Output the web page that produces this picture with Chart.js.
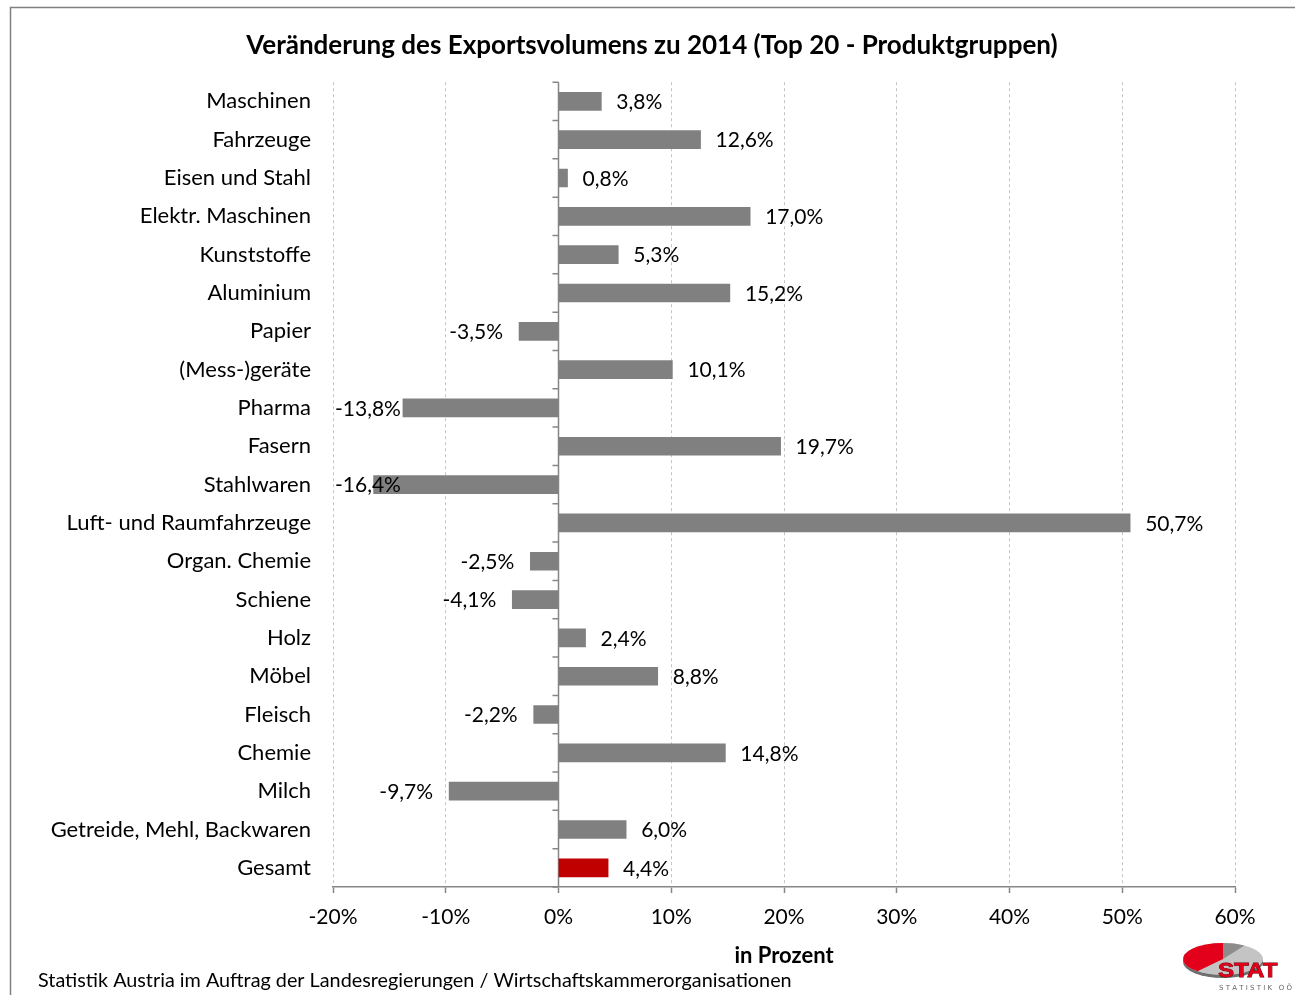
<!DOCTYPE html>
<html>
<head>
<meta charset="utf-8">
<script src="https://cdn.jsdelivr.net/npm/chart.js@4"></script>
<style>
html,body{margin:0;padding:0;background:#fff;}
#wrap{position:relative;width:1295px;height:995px;}
</style>
</head>
<body>
<div id="wrap"><canvas id="c" width="1295" height="995"></canvas></div>
<script>
const titleText = 'Veränderung des Exportsvolumens zu 2014 (Top 20 - Produktgruppen)';
const axisTitle = 'in Prozent';
const footerText = 'Statistik Austria im Auftrag der Landesregierungen / Wirtschaftskammerorganisationen';
const categories = ['Maschinen','Fahrzeuge','Eisen und Stahl','Elektr. Maschinen','Kunststoffe','Aluminium','Papier','(Mess-)geräte','Pharma','Fasern','Stahlwaren','Luft- und Raumfahrzeuge','Organ. Chemie','Schiene','Holz','Möbel','Fleisch','Chemie','Milch','Getreide, Mehl, Backwaren','Gesamt'];
const values = [3.8,12.6,0.8,17.0,5.3,15.2,-3.5,10.1,-13.8,19.7,-16.4,50.7,-2.5,-4.1,2.4,8.8,-2.2,14.8,-9.7,6.0,4.4];
const xMin = -20, xMax = 60, xStep = 10;
const FONT = 'Lato, "Open Sans", sans-serif';

function fmt(v){ return v.toFixed(1).replace('.', ',') + '%'; }

const extras = {
  id: 'extras',
  beforeDatasetsDraw(chart){
    const ctx = chart.ctx, x = chart.scales.x;
    const x0 = x.getPixelForValue(0);
    const ca = chart.chartArea;
    ctx.save();
    ctx.strokeStyle = '#868686';
    ctx.lineWidth = 1.5;
    ctx.beginPath();
    ctx.moveTo(x0, ca.top); ctx.lineTo(x0, ca.bottom);
    const n = categories.length;
    const step = (ca.bottom - ca.top) / n;
    for (let i = 0; i <= n; i++) {
      const yy = ca.top + i * step;
      ctx.moveTo(x0 - 6, yy); ctx.lineTo(x0, yy);
    }
    ctx.stroke();
    ctx.restore();
  },
  afterDatasetsDraw(chart){
    const ctx = chart.ctx, meta = chart.getDatasetMeta(0);
    const ca = chart.chartArea;
    ctx.save();
    ctx.font = '21px ' + FONT;
    ctx.fillStyle = '#000';
    ctx.textBaseline = 'middle';
    meta.data.forEach((bar, i) => {
      const v = values[i];
      const t = fmt(v);
      const w = ctx.measureText(t).width;
      let lx;
      if (v >= 0) { lx = bar.x + 15; }
      else { lx = bar.x - 16 - w; if (lx < ca.left + 2) lx = ca.left + 2; }
      ctx.textAlign = 'left';
      ctx.fillText(t, lx, bar.y + 1);
    });
    ctx.restore();
  },
  afterDraw(chart){
    const ctx = chart.ctx;
    ctx.save();
    // border
    ctx.strokeStyle = '#808080';
    ctx.lineWidth = 1.5;
    ctx.beginPath();
    ctx.moveTo(10.5, 995); ctx.lineTo(10.5, 7.5); ctx.lineTo(1295, 7.5);
    ctx.stroke();
    // footer
    ctx.font = '19.8px ' + FONT;
    ctx.fillStyle = '#000';
    ctx.textAlign = 'left';
    ctx.textBaseline = 'middle';
    ctx.fillText(footerText, 38, 981);
    // logo
    const cx = 1223, cy = 959, rx = 40, ry = 16;
    ctx.fillStyle = '#6e6e6e';
    ctx.beginPath(); ctx.ellipse(cx, cy + 3, rx, ry, 0, 0, Math.PI * 2); ctx.fill();
    ctx.fillStyle = '#c4c4c4';
    ctx.beginPath(); ctx.ellipse(cx, cy, rx, ry, 0, 0, Math.PI * 2); ctx.fill();
    ctx.fillStyle = '#e3001b';
    ctx.beginPath(); ctx.moveTo(cx, cy);
    ctx.ellipse(cx, cy, rx, ry, 0, Math.PI * 0.72, Math.PI * 1.5); ctx.closePath(); ctx.fill();
    ctx.fillStyle = '#8c8c8c';
    ctx.beginPath(); ctx.moveTo(cx, cy);
    ctx.ellipse(cx, cy, rx, ry, 0, Math.PI * 1.5, Math.PI * 1.68); ctx.closePath(); ctx.fill();
    ctx.font = 'bold 21px "Liberation Sans", Arial, sans-serif';
    ctx.fillStyle = '#e3001b';
    ctx.strokeStyle = '#5a0000';
    ctx.lineWidth = 0.8;
    ctx.textAlign = 'left';
    ctx.textBaseline = 'alphabetic';
    ctx.save();
    ctx.translate(1218, 977);
    ctx.scale(1.15, 1);
    ctx.strokeText('STAT', 0, 0);
    ctx.fillText('STAT', 0, 0);
    ctx.restore();
    ctx.font = '7px "DejaVu Sans", sans-serif';
    ctx.fillStyle = '#666';
    ctx.textBaseline = 'middle';
    ctx.fillText('S T A T I S T I K   O Ö', 1219, 988);
    ctx.restore();
  }
};

new Chart(document.getElementById('c'), {
  type: 'bar',
  data: {
    labels: categories,
    datasets: [{
      data: values,
      backgroundColor: values.map((v, i) => i === categories.length - 1 ? '#C00000' : '#808080'),
      borderWidth: 0,
      barThickness: 18
    }]
  },
  options: {
    indexAxis: 'y',
    responsive: false,
    animation: false,
    devicePixelRatio: 1,
    layout: { padding: { left: 9, right: 0, top: 0, bottom: 26 } },
    plugins: {
      legend: { display: false },
      tooltip: { enabled: false },
      title: {
        display: true,
        text: titleText,
        color: '#000',
        font: { family: FONT, size: 26, weight: 'bold', lineHeight: 1.2 },
        padding: { top: 30, bottom: 21 }
      }
    },
    scales: {
      x: {
        min: xMin, max: xMax,
        ticks: {
          stepSize: xStep,
          color: '#000',
          font: { family: FONT, size: 21 },
          padding: 12,
          callback: v => v + '%'
        },
        grid: {
          color: '#c4c4c4',
          lineWidth: 1,
          drawTicks: true,
          tickLength: 6,
          tickColor: '#868686',
          tickWidth: 1.5
        },
        border: { display: true, color: '#868686', width: 1.5, dash: [3, 3] },
        title: {
          display: true,
          text: axisTitle,
          color: '#000',
          font: { family: FONT, size: 22, weight: 'bold', lineHeight: 1.2 },
          padding: { top: 0, bottom: 0 }
        },
        afterFit(s){ s.height = 82; }
      },
      y: {
        ticks: {
          color: '#000',
          font: { family: FONT, size: 22 },
          padding: 22,
          autoSkip: false
        },
        grid: { display: false, drawTicks: false },
        border: { display: false },
        afterFit(s){ s.width = 324; }
      },
      yRight: {
        type: 'linear',
        position: 'right',
        display: true,
        ticks: { display: false },
        grid: { display: false, drawTicks: false },
        border: { display: false },
        afterFit(s){ s.width = 60; }
      }
    }
  },
  plugins: [extras]
});
</script>
</body>
</html>
